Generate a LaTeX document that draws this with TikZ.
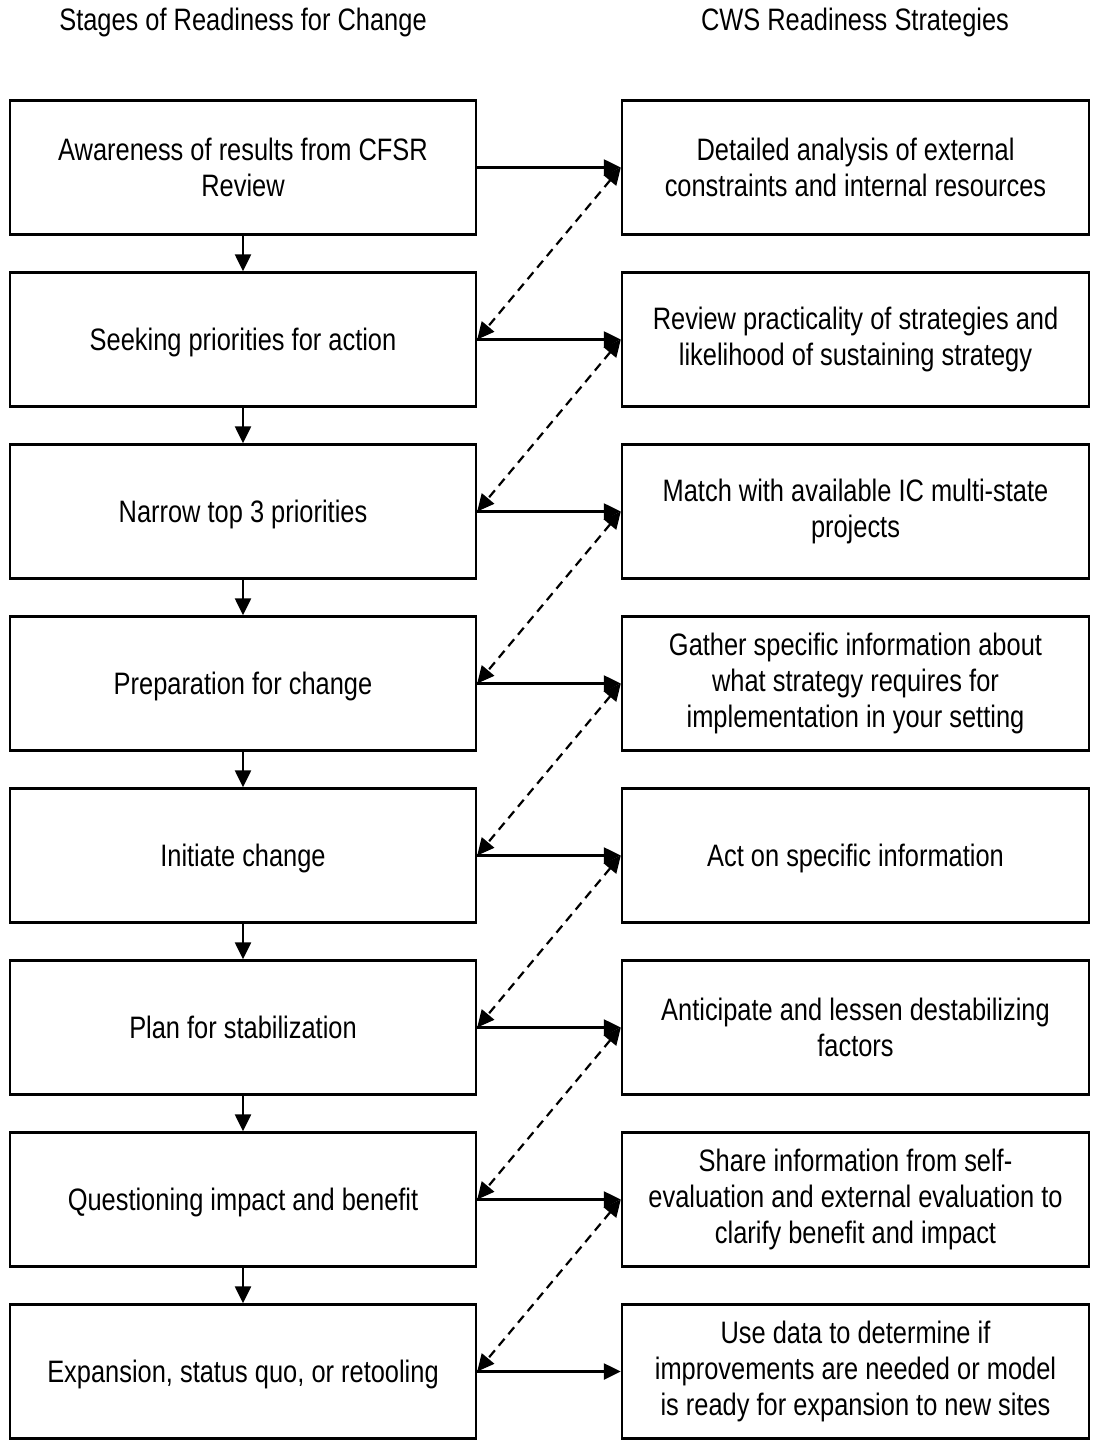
\documentclass[tikz,border=0pt]{standalone}
\usepackage{fontspec}
\setmainfont[FakeStretch=0.82]{Liberation Sans}
\usetikzlibrary{arrows.meta}
\begin{document}
\begin{tikzpicture}[x=1pt,y=-1pt,
  every node/.style={font=\fontsize{31}{36}\selectfont},
  box/.style={draw,line width=2.4pt,minimum height=134pt,inner sep=0pt},
  lbox/.style={box,minimum width=466pt},
  rbox/.style={box,minimum width=467pt},
  multi/.style={align=center},
  one/.style={text height=28pt,text depth=6pt},
  arr/.style={line width=2.4pt,-{Triangle[length=17pt,width=16pt]}},
  darr/.style={line width=2.2pt,dash pattern=on 9pt off 6pt,{Triangle[length=17pt,width=16pt]}-{Triangle[length=17pt,width=16pt]}}
]
\useasboundingbox (0,0) rectangle (1094,1448);
\node (h1) at (243,22) {Stages of Readiness for Change};
\node (h2) at (855,22) {CWS Readiness Strategies};
\node[lbox,multi] (l1) at (243,167.5) {Awareness of results from CFSR\\Review};
\node[lbox,one] (l2) at (243,339.5) {Seeking priorities for action};
\node[lbox,one] (l3) at (243,511.5) {Narrow top 3 priorities};
\node[lbox,one] (l4) at (243,683.5) {Preparation for change};
\node[lbox,one] (l5) at (243,855.5) {Initiate change};
\node[lbox,one] (l6) at (243,1027.5) {Plan for stabilization};
\node[lbox,one] (l7) at (243,1199.5) {Questioning impact and benefit};
\node[lbox,one] (l8) at (243,1371.5) {Expansion, status quo, or retooling};
\node[rbox,multi] (r1) at (855.5,167.5) {Detailed analysis of external\\constraints and internal resources};
\node[rbox,multi] (r2) at (855.5,339.5) {Review practicality of strategies and\\likelihood of sustaining strategy};
\node[rbox,multi] (r3) at (855.5,511.5) {Match with available IC multi-state\\projects};
\node[rbox,multi] (r4) at (855.5,683.5) {Gather specific information about\\what strategy requires for\\implementation in your setting};
\node[rbox,one] (r5) at (855.5,855.5) {Act on specific information};
\node[rbox,multi] (r6) at (855.5,1027.5) {Anticipate and lessen destabilizing\\factors};
\node[rbox,multi] (r7) at (855.5,1199.5) {Share information from self-\\evaluation and external evaluation to\\clarify benefit and impact};
\node[rbox,multi] (r8) at (855.5,1371.5) {Use data to determine if\\improvements are needed or model\\is ready for expansion to new sites};
\foreach \i in {1,...,8}{\draw[arr] (l\i.east) -- (r\i.west);}
\foreach \i/\j in {1/2,2/3,3/4,4/5,5/6,6/7,7/8}{
  \draw[arr] (l\i.south) -- (l\j.north);
  \draw[darr] (r\i.west) -- (l\j.east);
}
\end{tikzpicture}
\end{document}
